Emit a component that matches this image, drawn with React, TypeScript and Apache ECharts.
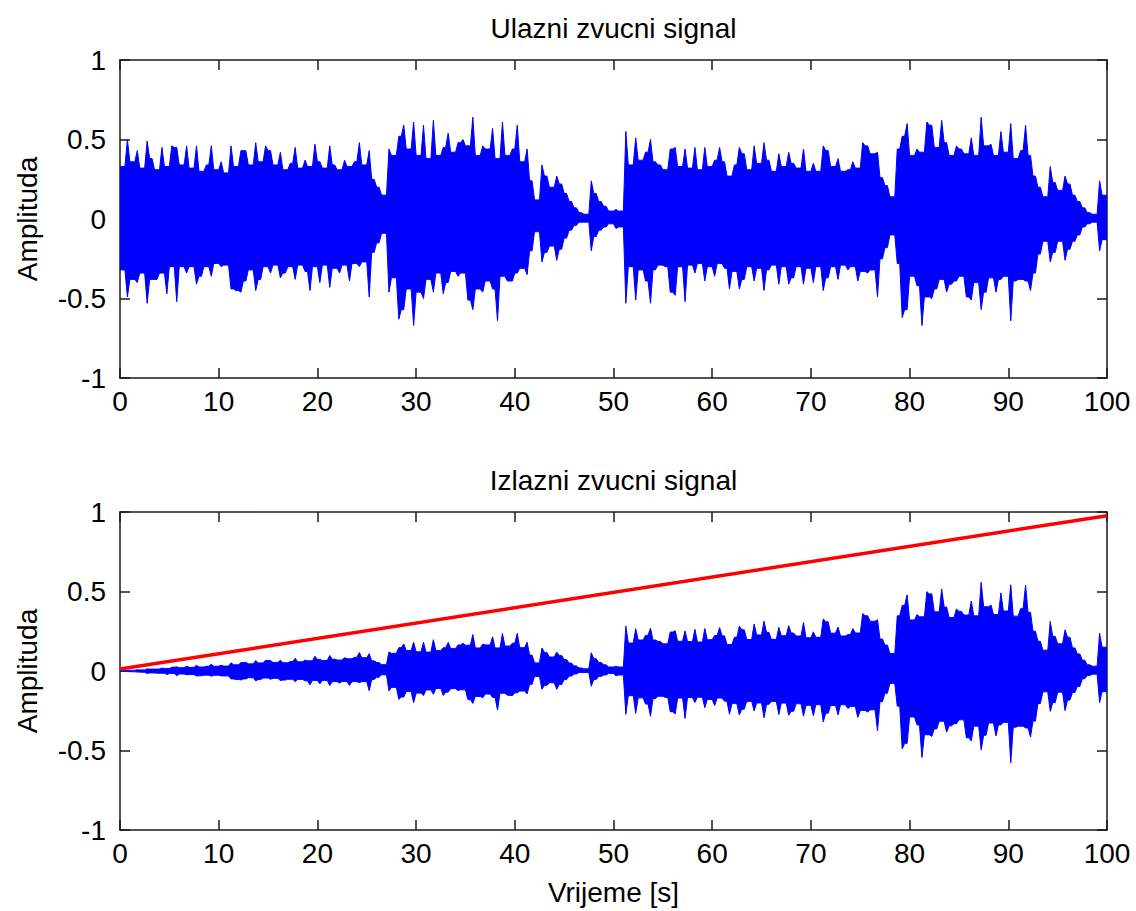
import React, { useEffect, useRef } from "react";
import * as echarts from "echarts";

// Waveform peaks per 0.5 s bin (t = 0 ... 99.5 s).
const BIN_SECONDS = 0.5;

// Input signal ("Ulazni zvucni signal"), peak amplitude x 100
const inputPeakHi = [
  33, 50, 36, 43, 32, 49, 38, 31, 45, 33, 46, 45, 34, 46, 32, 46, 30, 34, 46, 31,
  36, 29, 46, 33, 43, 43, 34, 48, 36, 46, 43, 34, 42, 31, 35, 45, 32, 37, 33, 47,
  36, 32, 46, 34, 31, 37, 33, 36, 48, 34, 43, 25, 20, 15, 44, 40, 52, 59, 44, 61,
  40, 59, 38, 62, 40, 45, 54, 42, 48, 50, 46, 64, 40, 46, 44, 57, 38, 61, 40, 44,
  59, 36, 44, 24, 12, 34, 27, 20, 27, 22, 16, 11, 7, 4, 3, 24, 16, 11, 8, 5,
  6, 5, 55, 34, 51, 37, 42, 50, 36, 34, 31, 44, 45, 33, 44, 32, 45, 31, 45, 33,
  37, 45, 36, 27, 34, 45, 41, 31, 46, 35, 48, 37, 30, 41, 33, 42, 35, 32, 44, 30,
  35, 30, 46, 43, 33, 38, 30, 31, 36, 32, 48, 46, 41, 42, 26, 21, 14, 44, 52, 60,
  40, 44, 42, 61, 59, 45, 62, 48, 40, 46, 44, 41, 51, 40, 64, 46, 47, 40, 55, 42,
  60, 38, 43, 59, 40, 27, 20, 14, 33, 23, 18, 27, 22, 15, 11, 7, 4, 3, 24, 15,
];
const inputPeakLo = [
  -32, -49, -38, -40, -34, -53, -38, -38, -34, -47, -30, -52, -30, -34, -30, -41, -36, -30, -36, -28,
  -30, -29, -44, -45, -46, -39, -32, -45, -38, -30, -34, -29, -37, -34, -30, -38, -29, -33, -45, -30,
  -40, -29, -43, -31, -34, -29, -39, -28, -30, -27, -49, -21, -15, -9, -46, -37, -63, -57, -44, -67,
  -46, -50, -38, -46, -34, -47, -40, -33, -36, -34, -51, -57, -44, -46, -39, -44, -64, -36, -39, -39,
  -34, -31, -35, -20, -8, -27, -21, -17, -26, -19, -12, -7, -4, -2, -2, -20, -11, -7, -5, -3,
  -6, -5, -53, -30, -51, -32, -39, -53, -32, -29, -30, -46, -48, -30, -52, -29, -34, -28, -39, -30,
  -36, -28, -31, -44, -33, -44, -38, -30, -39, -31, -45, -32, -29, -41, -30, -41, -37, -30, -41, -31,
  -40, -30, -45, -37, -30, -38, -29, -32, -30, -39, -33, -34, -32, -49, -25, -18, -10, -28, -62, -57,
  -36, -42, -67, -49, -50, -44, -38, -46, -41, -39, -36, -49, -51, -40, -57, -46, -37, -46, -38, -36,
  -64, -39, -38, -39, -45, -34, -22, -14, -27, -21, -14, -26, -19, -14, -10, -5, -3, -2, -20, -13,
];

// Output signal ("Izlazni zvucni signal"), peak amplitude x 1000
const outputPeakHi = [
  1, 4, 5, 8, 7, 13, 12, 12, 19, 16, 24, 26, 21, 31, 23, 36, 25, 30, 43, 30,
  37, 31, 52, 39, 53, 55, 45, 66, 51, 68, 66, 54, 68, 52, 60, 80, 58, 69, 64, 93,
  73, 66, 98, 74, 69, 84, 77, 86, 116, 84, 109, 64, 53, 40, 120, 111, 147, 170, 129, 181,
  121, 181, 119, 197, 129, 147, 180, 142, 164, 174, 162, 229, 145, 169, 164, 215, 145, 236, 157, 175,
  237, 147, 181, 100, 51, 145, 117, 88, 119, 98, 72, 50, 32, 19, 14, 115, 77, 54, 39, 25,
  30, 25, 282, 176, 266, 195, 224, 269, 195, 186, 171, 245, 253, 187, 252, 185, 262, 182, 267, 197,
  223, 273, 221, 167, 212, 282, 259, 198, 296, 227, 313, 243, 199, 274, 222, 285, 239, 220, 305, 209,
  246, 212, 328, 309, 238, 276, 220, 229, 267, 239, 361, 348, 313, 322, 201, 163, 110, 347, 412, 479,
  321, 355, 341, 499, 485, 372, 516, 402, 337, 390, 375, 352, 440, 347, 558, 404, 415, 355, 491, 377,
  542, 345, 392, 541, 369, 250, 187, 131, 311, 218, 171, 259, 212, 145, 107, 68, 39, 30, 238, 150,
];
const outputPeakLo = [
  -1, -4, -5, -7, -8, -15, -12, -14, -14, -22, -16, -30, -19, -23, -22, -32, -30, -26, -33, -27,
  -31, -31, -50, -53, -56, -50, -42, -62, -54, -44, -52, -46, -60, -57, -52, -67, -53, -62, -87, -59,
  -81, -60, -91, -67, -76, -66, -91, -67, -73, -67, -124, -54, -39, -24, -125, -103, -178, -164, -129, -199,
  -139, -154, -119, -146, -110, -154, -133, -111, -123, -118, -180, -204, -160, -169, -145, -166, -245, -140, -153, -155,
  -137, -126, -144, -84, -34, -115, -91, -74, -115, -85, -54, -32, -19, -9, -9, -96, -53, -34, -25, -15,
  -30, -25, -272, -155, -266, -169, -208, -285, -174, -159, -166, -256, -270, -170, -298, -167, -198, -165, -231, -179,
  -217, -170, -190, -272, -205, -276, -240, -191, -251, -201, -294, -210, -192, -274, -202, -278, -253, -206, -284, -216,
  -281, -212, -321, -265, -217, -276, -212, -236, -223, -292, -248, -258, -244, -376, -193, -140, -78, -221, -491, -455,
  -289, -339, -544, -401, -411, -364, -316, -385, -345, -331, -307, -420, -440, -347, -497, -404, -327, -408, -339, -323,
  -578, -354, -347, -358, -415, -315, -205, -131, -254, -199, -133, -249, -183, -135, -97, -49, -29, -20, -199, -130,
];

// Red gain line in the output plot
const gainTimes = [0, 100];
const gainValues = [0.012, 0.977];

const titles = ["Ulazni zvucni signal", "Izlazni zvucni signal"];
const yAxisName = "Amplituda";
const xAxisName = "Vrijeme [s]";

const FONT = "'Liberation Sans', Arial, Helvetica, sans-serif";
const FS = 28;
const AXIS_COLOR = "#1a1a1a";
const WAVE_COLOR = "#0000ff";

// Envelope outline: each bin's peak sits at the bin centre; at a bin boundary the
// outline drops to the smaller of the two neighbouring peaks, so peaks stay narrow.
function envelope(hi: number[], lo: number[], scale: number) {
  const n = hi.length;
  const upper: number[][] = [[0, hi[0] / scale]];
  const lower: number[][] = [[0, lo[0] / scale]];
  for (let i = 0; i < n; i++) {
    const t0 = i * BIN_SECONDS;
    upper.push([t0 + BIN_SECONDS / 2, hi[i] / scale]);
    lower.push([t0 + BIN_SECONDS / 2, lo[i] / scale]);
    if (i < n - 1) {
      upper.push([t0 + BIN_SECONDS, Math.min(hi[i], hi[i + 1]) / scale]);
      lower.push([t0 + BIN_SECONDS, Math.max(lo[i], lo[i + 1]) / scale]);
    }
  }
  upper.push([n * BIN_SECONDS, hi[n - 1] / scale]);
  lower.push([n * BIN_SECONDS, lo[n - 1] / scale]);
  return [...upper, ...lower.reverse()];
}

function waveSeries(points: number[][], axisIndex: number) {
  return {
    type: "custom",
    xAxisIndex: axisIndex,
    yAxisIndex: axisIndex,
    silent: true,
    clip: true,
    data: points,
    renderItem: (params: any, api: any) => {
      if (params.dataIndex !== 0) return null;
      const pts = points.map((p) => api.coord(p));
      return {
        type: "polygon",
        shape: { points: pts },
        style: { fill: WAVE_COLOR, stroke: WAVE_COLOR, lineWidth: 1, lineJoin: "miter" },
      };
    },
  };
}

const GRID_LEFT = 120;
const GRID_W = 987;
const GRID_H = 318;
const GRID_TOPS = [60, 512];

function xAxes(gridIndex: number) {
  const common = {
    gridIndex,
    type: "value" as const,
    min: 0,
    max: 100,
    interval: 10,
    splitLine: { show: false },
    axisLine: { show: true, onZero: false, lineStyle: { color: AXIS_COLOR, width: 1.5 } },
    axisTick: { show: true, inside: true, length: 10, lineStyle: { color: AXIS_COLOR, width: 1.5 } },
  };
  return [
    {
      ...common,
      position: "bottom",
      axisLabel: { show: true, margin: 9, fontSize: FS, fontFamily: FONT, color: "#000" },
    },
    { ...common, position: "top", axisLabel: { show: false } },
  ];
}

function yAxes(gridIndex: number) {
  const common = {
    gridIndex,
    type: "value" as const,
    min: -1,
    max: 1,
    interval: 0.5,
    splitLine: { show: false },
    axisLine: { show: true, onZero: false, lineStyle: { color: AXIS_COLOR, width: 1.5 } },
    axisTick: { show: true, inside: true, length: 10, lineStyle: { color: AXIS_COLOR, width: 1.5 } },
  };
  return [
    {
      ...common,
      position: "left",
      axisLabel: { show: true, margin: 14, fontSize: FS, fontFamily: FONT, color: "#000" },
    },
    { ...common, position: "right", axisLabel: { show: false } },
  ];
}

export default function App() {
  const ref = useRef<HTMLDivElement>(null);

  useEffect(() => {
    if (!ref.current) return;
    const chart = echarts.init(ref.current, undefined, { renderer: "svg" });

    const textStyle = (text: string) => ({
      text,
      fontSize: FS,
      fontFamily: FONT,
      fill: "#000",
      align: "center",
      verticalAlign: "middle",
    });

    const option: any = {
      animation: false,
      backgroundColor: "#ffffff",
      grid: GRID_TOPS.map((top) => ({ left: GRID_LEFT, top, width: GRID_W, height: GRID_H })),
      xAxis: [...xAxes(0), ...xAxes(1)],
      yAxis: [...yAxes(0), ...yAxes(1)],
      series: [
        waveSeries(envelope(inputPeakHi, inputPeakLo, 100), 0),
        waveSeries(envelope(outputPeakHi, outputPeakLo, 1000), 2),
        {
          type: "line",
          xAxisIndex: 2,
          yAxisIndex: 2,
          data: gainTimes.map((t, i) => [t, gainValues[i]]),
          showSymbol: false,
          symbol: "none",
          silent: true,
          z: 5,
          lineStyle: { color: "#ff0000", width: 3.5 },
        },
      ],
      graphic: [
        { type: "text", x: 613.5, y: 28, style: textStyle(titles[0]) },
        { type: "text", x: 613.5, y: 480, style: textStyle(titles[1]) },
        { type: "text", x: 613.5, y: 892, style: textStyle(xAxisName) },
        { type: "text", x: 27, y: 219, rotation: Math.PI / 2, style: textStyle(yAxisName) },
        { type: "text", x: 27, y: 671, rotation: Math.PI / 2, style: textStyle(yAxisName) },
      ],
    };

    chart.setOption(option);
    return () => chart.dispose();
  }, []);

  return (
    <div
      ref={ref}
      style={{ position: "fixed", left: 0, top: 0, width: 1136, height: 911, background: "#fff" }}
    />
  );
}
